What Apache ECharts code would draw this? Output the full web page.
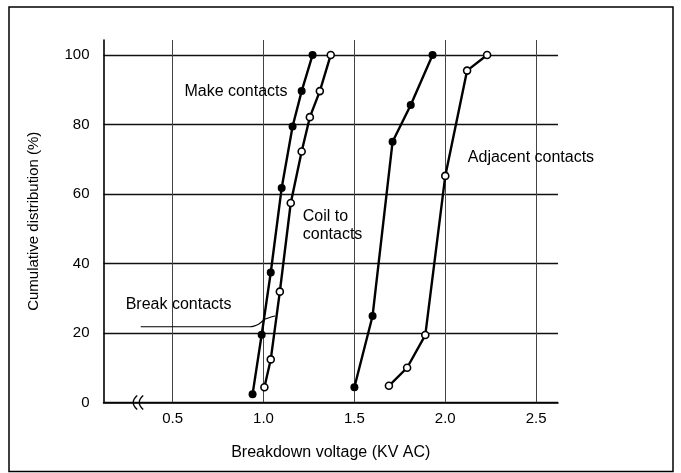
<!DOCTYPE html>
<html><head><meta charset="utf-8">
<script src="https://cdn.jsdelivr.net/npm/echarts@6/dist/echarts.min.js"></script>
<style>html,body{margin:0;padding:0;background:#fff}#c{width:681px;height:473px}</style>
</head><body><div id="c"></div>
<script>
// ---- data ----
const xTicks = [0.5, 1.0, 1.5, 2.0, 2.5];
const yTicks = [0, 20, 40, 60, 80, 100];

const makeX  = [0.94, 0.99, 1.04, 1.10, 1.16, 1.21, 1.27];
const makeY  = [2.4, 19.5, 37.4, 61.7, 79.4, 89.6, 100];

const breakX = [1.005, 1.04, 1.09, 1.15, 1.21, 1.255, 1.31, 1.37];
const breakY = [4.4, 12.4, 31.9, 57.4, 72.2, 82.1, 89.6, 100];

const coilX  = [1.50, 1.60, 1.71, 1.81, 1.93];
const coilY  = [4.4, 24.9, 75.0, 85.6, 100];

const adjX   = [1.69, 1.79, 1.89, 2.00, 2.12, 2.23];
const adjY   = [4.8, 10.0, 19.4, 65.2, 95.5, 100];

// leader line from "Break contacts" label
const leaderX = [0.325, 0.926, 0.975, 1.009, 1.064];
const leaderY = [21.8, 21.8, 22.6, 24.0, 24.9];

// annotation texts, anchored at (x, y) in data space (left edge, vertical centre)
const noteText = ['Make contacts', 'Coil to\ncontacts', 'Break contacts', 'Adjacent contacts'];
const noteX    = [0.565, 1.216, 0.242, 2.124];
const noteY    = [89.4, 50.8, 28.1, 70.4];

const xName = 'Breakdown voltage (KV AC)';
const yName = 'Cumulative distribution (%)';

// ---- chart ----
const FONT = "'Liberation Sans', Arial, Helvetica, sans-serif";
const chart = echarts.init(document.getElementById('c'), null, {renderer: 'canvas'});
const pts = (xs, ys) => xs.map((x, i) => [x, ys[i]]);
const lineStyle = {color: '#000', width: 2.4};
const filled = {symbol: 'circle', symbolSize: 8, itemStyle: {color: '#000'}};
const open = {symbol: 'circle', symbolSize: 7, itemStyle: {color: '#fff', borderColor: '#000', borderWidth: 1.6}};

chart.setOption({
  backgroundColor: '#fff',
  animation: false,
  grid: {left: 103.5, right: 123, top: 40, bottom: 70.5, containLabel: false},
  xAxis: {
    type: 'value', min: 0.12, max: 2.62,
    axisLine: {show: true, onZero: false, lineStyle: {color: '#000', width: 1.6}},
    axisTick: {show: false, customValues: xTicks},
    axisLabel: {customValues: xTicks, formatter: v => v.toFixed(1), color: '#000', fontSize: 15, fontFamily: FONT, margin: 9},
    splitLine: {show: true, lineStyle: {color: '#444', width: 1}},
    name: xName, nameLocation: 'middle', nameGap: 42,
    nameTextStyle: {color: '#000', fontSize: 16, fontFamily: FONT}
  },
  yAxis: {
    type: 'value', min: 0, max: 104.3,
    axisLine: {show: true, onZero: false, lineStyle: {color: '#000', width: 1.6}},
    axisTick: {show: false, customValues: yTicks},
    axisLabel: {customValues: yTicks, color: '#000', fontSize: 15, fontFamily: FONT, margin: 14},
    splitLine: {show: true, lineStyle: {color: '#111', width: 1.4}},
    name: yName, nameLocation: 'middle', nameGap: 62,
    nameTextStyle: {color: '#000', fontSize: 15, fontFamily: FONT}
  },
  series: [
    Object.assign({type: 'line', name: 'Make contacts', data: pts(makeX, makeY), lineStyle, z: 3}, filled),
    Object.assign({type: 'line', name: 'Break contacts', data: pts(breakX, breakY), lineStyle, z: 3}, open),
    Object.assign({type: 'line', name: 'Coil to contacts', data: pts(coilX, coilY), lineStyle, z: 3}, filled),
    Object.assign({type: 'line', name: 'Adjacent contacts', data: pts(adjX, adjY), lineStyle, z: 3}, open),
    {type: 'line', name: 'leader', data: pts(leaderX, leaderY), smooth: 0.3, symbol: 'none',
     lineStyle: {color: '#000', width: 1.2}, z: 2}
  ]
});

// annotations & decorations placed through the axes
const g = [];
noteText.forEach((t, i) => {
  const p = chart.convertToPixel({gridIndex: 0}, [noteX[i], noteY[i]]);
  g.push({type: 'text', x: p[0], y: p[1], z: 10,
    style: {text: t, fill: '#000', font: '16px ' + FONT, align: 'left', verticalAlign: 'middle', lineHeight: 18}});
});
// axis break mark
const b = chart.convertToPixel({gridIndex: 0}, [0.30, 0]);
[0, 6].forEach(dx => {
  const x0 = b[0] - 5 + dx, y0 = b[1];
  g.push({type: 'bezierCurve', z: 10,
    shape: {x1: x0 + 6, y1: y0 - 7, cpx1: x0 - 2, cpy1: y0, x2: x0 + 6, y2: y0 + 7},
    style: {stroke: '#000', lineWidth: 1.3, fill: null}});
});
// outer frame
g.push({type: 'rect', z: 10, shape: {x: 9, y: 7, width: 664, height: 464.5},
  style: {stroke: '#000', lineWidth: 1.5, fill: null}});
chart.setOption({graphic: g});
</script>
</body></html>
